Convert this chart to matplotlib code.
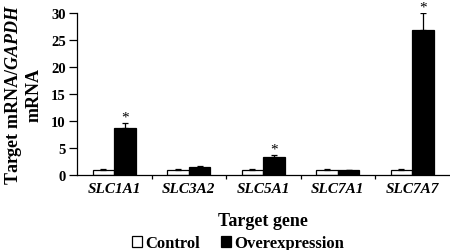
import matplotlib
matplotlib.use("Agg")
import matplotlib.pyplot as plt
import numpy as np
from matplotlib.patches import Patch

genes = ["SLC1A1", "SLC3A2", "SLC5A1", "SLC7A1", "SLC7A7"]
control = [1.0, 1.0, 1.0, 1.0, 1.0]
control_err = [0.15, 0.1, 0.12, 0.12, 0.15]
overexp = [8.7, 1.5, 3.3, 0.85, 26.9]
overexp_err = [0.9, 0.12, 0.35, 0.12, 3.1]
significant = [True, False, True, False, True]
yticks = [0, 5, 10, 15, 20, 25, 30]

plt.rcParams['font.family'] = ['Liberation Serif', 'DejaVu Serif']
plt.rcParams['font.weight'] = 'bold'
plt.rcParams['mathtext.fontset'] = 'custom'
plt.rcParams['mathtext.it'] = 'Liberation Serif:bold:italic'
plt.rcParams['mathtext.rm'] = 'Liberation Serif:bold'

fig = plt.figure(figsize=(4.5, 2.51), dpi=100)
ax = fig.add_axes([77/450, 1-176/251, 372.5/450, 162/251])

x = np.arange(len(genes))
w = 0.29
ax.bar(x - w/2, control, w, color='white', edgecolor='black', linewidth=0.9,
       yerr=[np.zeros(len(genes)), control_err], capsize=2.5,
       error_kw=dict(ecolor='black', elinewidth=0.9, capthick=0.9), zorder=2)
ax.bar(x + w/2, overexp, w, color='black', edgecolor='black', linewidth=0.9,
       yerr=[np.zeros(len(genes)), overexp_err], capsize=2.5,
       error_kw=dict(ecolor='black', elinewidth=0.9, capthick=0.9), zorder=2)

for i, s in enumerate(significant):
    if s:
        ax.annotate('*', (x[i] + w/2, overexp[i] + overexp_err[i]),
                    xytext=(0, -0.5), textcoords='offset points',
                    ha='center', va='bottom', fontsize=11, fontweight='normal',
                    annotation_clip=False)

ax.set_xlim(-0.5, len(genes) - 0.5)
ax.set_ylim(0, 30)
ax.set_yticks(yticks)
ax.set_yticklabels([str(t) for t in yticks], fontsize=10.5, fontweight='bold')
ax.set_xticks(x)
ax.set_xticklabels(genes, fontsize=11, fontweight='bold', fontstyle='italic')
ax.set_xticks(np.arange(0.5, len(genes) - 0.5, 1.0), minor=True)
ax.tick_params(axis='x', which='major', length=0, pad=5)
ax.tick_params(axis='x', which='minor', length=3.2, width=0.9, direction='out')
ax.tick_params(axis='y', length=5.5, width=0.9, direction='out', pad=2.5)
for sp in ['top', 'right']:
    ax.spines[sp].set_visible(False)
for sp in ['left', 'bottom']:
    ax.spines[sp].set_linewidth(0.9)

ax.set_xlabel('Target gene', fontsize=13, fontweight='bold', labelpad=12)
ax.set_ylabel('Target mRNA/$\\mathit{GAPDH}$\nmRNA', fontsize=13, fontweight='bold',
              linespacing=1.15, labelpad=6)

handles = [Patch(facecolor='white', edgecolor='black', linewidth=0.9, label='Control'),
           Patch(facecolor='black', edgecolor='black', linewidth=0.9, label='Overexpression')]
fig.legend(handles=handles, loc='center', bbox_to_anchor=(238/450, 1-244.5/251), ncol=2,
           frameon=False, handlelength=0.6, handleheight=0.6,
           handletextpad=0.2, columnspacing=1.3, borderpad=0,
           prop={'weight': 'bold', 'size': 12})

fig.savefig('out.png', dpi=100)
